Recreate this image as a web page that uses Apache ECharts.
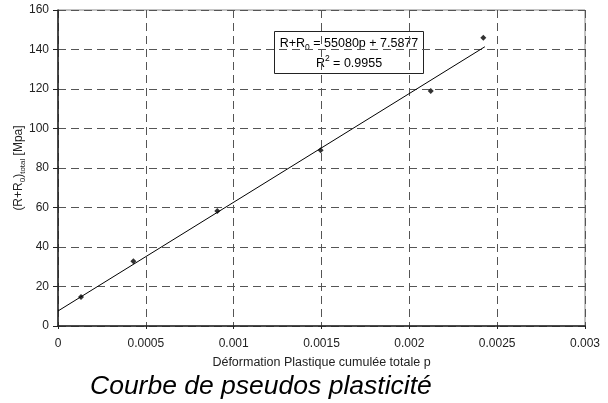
<!DOCTYPE html>
<html>
<head>
<meta charset="utf-8">
<script src="https://cdn.jsdelivr.net/npm/echarts@6/dist/echarts.min.js"></script>
<style>
    html, body { margin: 0; padding: 0; background: #fff; }
    #chart { width: 608px; height: 403px; }
</style>
</head>
<body>
<div id="chart"></div>
<script>
    // points
    var pValues = [0.000131, 0.000429, 0.000907, 0.001495, 0.002122, 0.002421]
    var stressValues = [14.7, 32.8, 58.2, 89, 119, 146]
    // droite de tendance (extrémités lues)
    var trendP = [0, 0.00243]
    var trendStress = [7.6, 141.4]
    var equationLines = ['R+R{sub|0} = 55080p + 7.5877', 'R{sup|2} = 0.9955']

    var font = 'Liberation Sans, Arial, sans-serif'
    var myChart = echarts.init(document.getElementById('chart'))

    var points = pValues.map(function (p, i) { return [p, stressValues[i]] })
    var trend = trendP.map(function (p, i) { return [p, trendStress[i]] })

    var dashed = {
        show: true,
        lineStyle: { color: '#555', width: 1, type: [8, 5] }
    }

    var eqRich = {
        n: { fontFamily: font, fontSize: 12.5, lineHeight: 18, verticalAlign: 'middle', fill: '#000' },
        sub: { fontFamily: font, fontSize: 8.5, lineHeight: 10, verticalAlign: 'bottom', fill: '#000' },
        sup: { fontFamily: font, fontSize: 8.5, lineHeight: 10, verticalAlign: 'top', fill: '#000' }
    }
    var eqTexts = equationLines.map(function (line, i) {
        return {
            type: 'text',
            x: 74.5,
            y: 12 + i * 20,
            style: {
                text: line.replace(/^([^{]+)/, '{n|$1}').replace(/\}([^{}]+)$/, '}{n|$1}'),
                align: 'center',
                verticalAlign: 'middle',
                fontFamily: font,
                fontSize: 12.5,
                fill: '#000',
                rich: eqRich
            }
        }
    })

    myChart.setOption({
        backgroundColor: '#fff',
        animation: false,
        title: {
            text: 'Courbe de pseudos plasticité',
            left: 90,
            top: 373,
            padding: 0,
            textStyle: {
                fontFamily: font,
                fontSize: 26.5,
                fontStyle: 'italic',
                fontWeight: 'normal',
                color: '#000'
            }
        },
        grid: {
            left: 58,
            right: 23,
            top: 10,
            bottom: 77,
            outerBoundsMode: 'none',
            show: true,
            borderColor: '#888',
            borderWidth: 1
        },
        xAxis: {
            type: 'value',
            min: 0,
            max: 0.003,
            interval: 0.0005,
            name: 'Déformation Plastique cumulée totale p',
            nameLocation: 'middle',
            nameGap: 30,
            nameMoveOverlap: false,
            nameTextStyle: { fontFamily: font, fontSize: 12.5, color: '#222' },
            axisLine: { lineStyle: { color: '#222', width: 1.5 } },
            axisTick: { show: true, length: 3, lineStyle: { color: '#222' } },
            axisLabel: {
                margin: 12,
                fontFamily: font,
                fontSize: 12,
                color: '#222',
                formatter: function (v) { return String(+v.toFixed(4)) }
            },
            splitLine: dashed
        },
        yAxis: {
            type: 'value',
            min: 0,
            max: 160,
            interval: 20,
            name: '(R+R{sub|0}){sub|total} [Mpa]',
            nameLocation: 'middle',
            nameRotate: 90,
            nameGap: 31,
            nameMoveOverlap: false,
            nameTextStyle: {
                fontFamily: font,
                fontSize: 12,
                color: '#222',
                lineHeight: 16,
                rich: {
                    sub: { fontFamily: font, fontSize: 8, lineHeight: 9, verticalAlign: 'bottom', color: '#222' }
                }
            },
            axisLine: { show: true, lineStyle: { color: '#222', width: 1.5 } },
            axisTick: { show: true, length: 5, lineStyle: { color: '#222' } },
            axisLabel: { margin: 9, fontFamily: font, fontSize: 12, color: '#222' },
            splitLine: dashed
        },
        graphic: [{
            type: 'group',
            left: 274,
            top: 31,
            children: [{
                type: 'rect',
                shape: { x: 0, y: 0, width: 149, height: 42 },
                style: { fill: '#fff', stroke: '#222', lineWidth: 1 }
            }].concat(eqTexts)
        }],
        series: [{
            type: 'line',
            data: trend,
            symbol: 'none',
            lineStyle: { color: '#000', width: 1 },
            z: 3
        }, {
            type: 'scatter',
            data: points,
            symbol: 'diamond',
            symbolSize: 6,
            itemStyle: { color: '#000' },
            z: 4
        }]
    })
</script>
</body>
</html>
